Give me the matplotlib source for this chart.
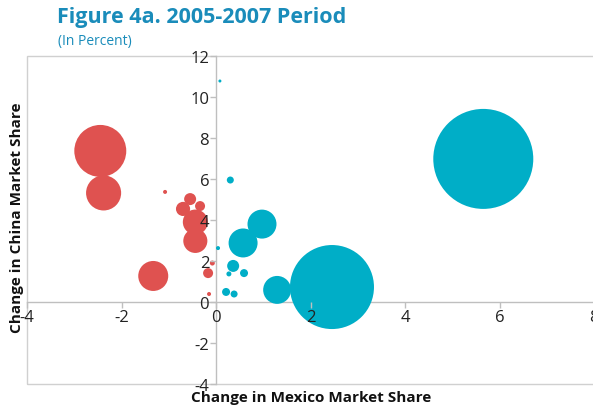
import numpy as np
import matplotlib.pyplot as plt
from matplotlib.patches import Rectangle

plt.rcParams['font.family'] = ['Open Sans', 'DejaVu Sans']

# red series (losing Mexico share)
red_x = [-2.45, -2.38, -1.33, -1.08, -0.55, -0.34, -0.70, -0.44, -0.44, -0.08, -0.17, -0.15]
red_y = [7.37, 5.32, 1.27, 5.37, 5.02, 4.68, 4.54, 3.90, 2.98, 1.90, 1.41, 0.39]
red_size = [27, 12.3, 9, 0.16, 1.44, 1.0, 2.0, 6.25, 5.8, 0.25, 1.0, 0.16]

# blue series (gaining Mexico share)
blue_x = [0.08, 0.30, 0.97, 0.57, 0.04, 0.36, 0.27, 0.59, 0.21, 0.38, 1.29, 2.45, 5.65]
blue_y = [10.78, 5.95, 3.80, 2.88, 2.63, 1.76, 1.37, 1.41, 0.49, 0.39, 0.59, 0.73, 6.98]
blue_size = [0.09, 0.49, 8.4, 8.4, 0.16, 1.44, 0.25, 0.64, 0.64, 0.49, 7.8, 70.6, 100]

x_ticks = [-4, -2, 0, 2, 4, 6, 8]
y_ticks = [-4, -2, 0, 2, 4, 6, 8, 10, 12]

red = '#df5250'
blue = '#00aec7'
title_col = '#1a8cba'
grey = '#bfbfbf'

W, H = 593, 410
fig = plt.figure(figsize=(W / 100, H / 100), dpi=100)
ax = fig.add_axes([27 / W, 1 - 385 / H, (594.4 - 27) / W, (385 - 57) / H])

# bubble value 100 -> radius 50 px
def bubble_s(v):
    r_px = 50 * np.sqrt(np.array(v) / 100.0)
    return (2 * r_px * 72 / 100) ** 2

ax.scatter(red_x, red_y, s=bubble_s(red_size), color=red, linewidths=0, zorder=2)
ax.scatter(blue_x, blue_y, s=bubble_s(blue_size), color=blue, linewidths=0, zorder=2)

ax.set_xlim(-4, 8)
ax.set_ylim(-4, 12)
ax.set_xticks(x_ticks)
ax.set_yticks(y_ticks)
ax.set_xticklabels([str(v) for v in x_ticks])
ax.set_yticklabels([str(v) for v in y_ticks])

for s in ['top', 'right']:
    ax.spines[s].set_visible(False)
ax.spines['left'].set_position(('data', 0))
ax.spines['bottom'].set_position(('data', 0))
for s in ['left', 'bottom']:
    ax.spines[s].set_color(grey)
    ax.spines[s].set_linewidth(1.0)
    ax.spines[s].set_zorder(1)
ax.tick_params(axis='both', colors=grey, length=4, width=1, direction='out',
               labelcolor='#222222', labelsize=12, pad=1)
# tick labels sit on top of the bubbles, axis lines stay below
ax.xaxis.set_zorder(3)
ax.yaxis.set_zorder(3)

# outer plot-area frame
ax.add_patch(Rectangle((0, 0), 1, 1, transform=ax.transAxes, fill=False,
                       ec='#d0d0d0', lw=1.0, clip_on=False, zorder=0))

fig.text(311 / W, 1 - 398 / H, 'Change in Mexico Market Share', ha='center', va='center',
         fontsize=11, fontweight='bold', color='#111111')
fig.text(17 / W, 1 - 218 / H, 'Change in China Market Share', ha='center', va='center',
         rotation=90, fontsize=11, fontweight='bold', color='#111111')

fig.text(57 / W, 1 - 18 / H, 'Figure 4a. 2005-2007 Period', ha='left', va='center',
         fontsize=15.5, fontweight='bold', color=title_col)
fig.text(58 / W, 1 - 42 / H, '(In Percent)', ha='left', va='center',
         fontsize=10, color=title_col)

fig.savefig('out.png', dpi=100)
